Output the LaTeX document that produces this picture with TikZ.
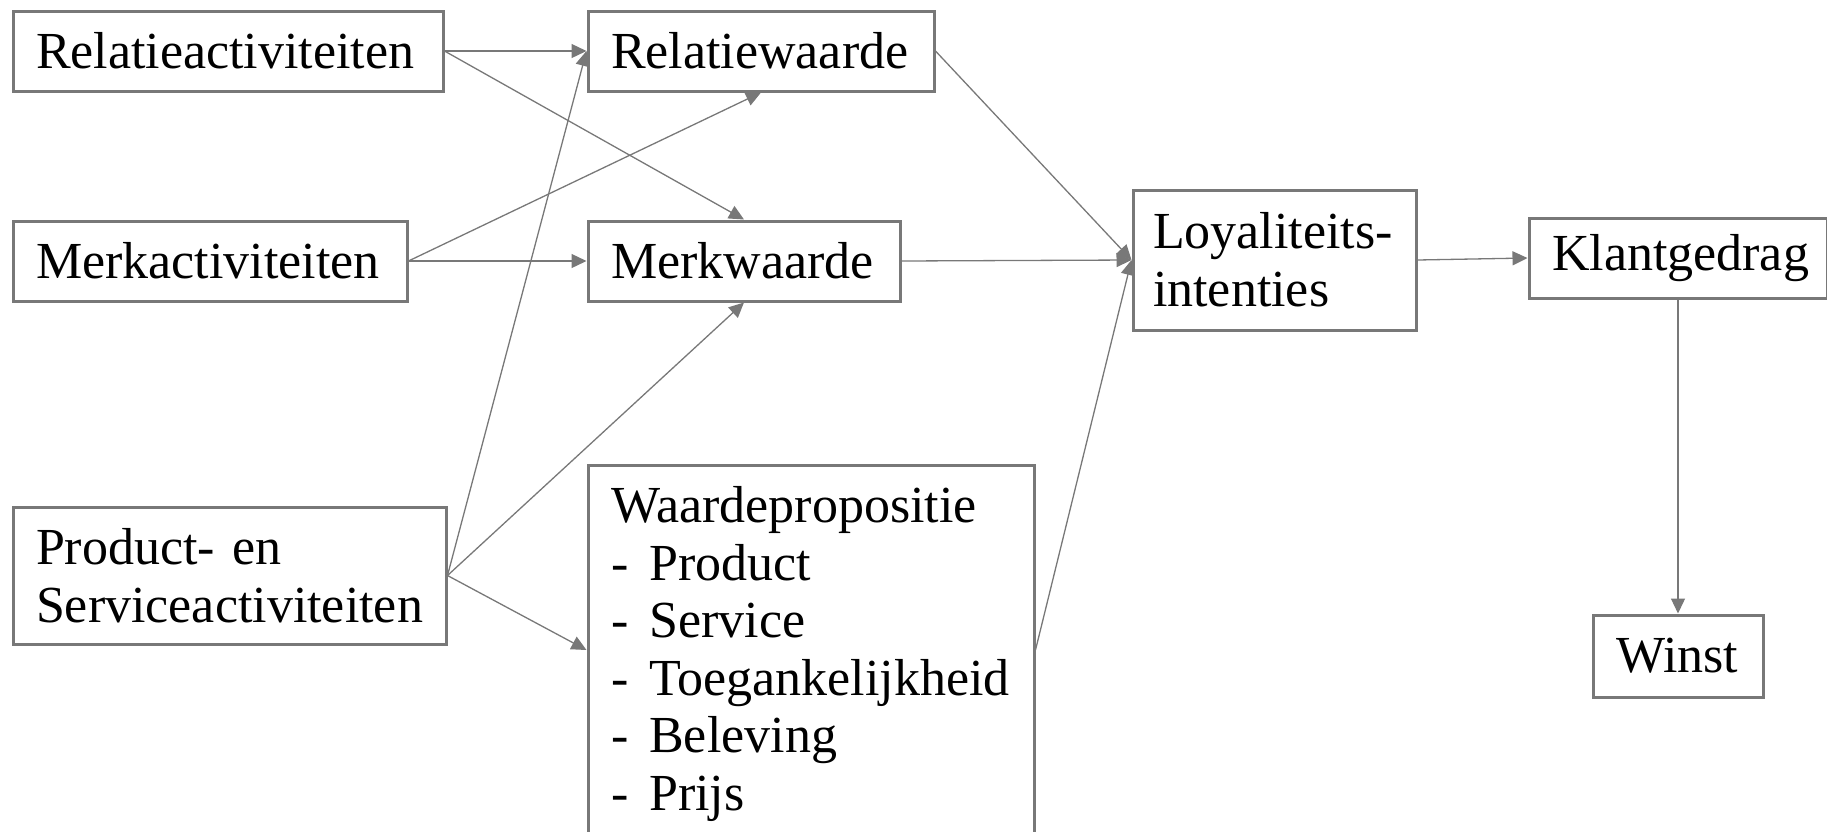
\documentclass[tikz,border=0pt]{standalone}
\usepackage{fontspec}
\setmainfont{Liberation Serif}
\usetikzlibrary{arrows.meta}
\definecolor{bordergray}{HTML}{787878}
\begin{document}
\begin{tikzpicture}[x=0.5pt,y=-0.5pt,
  box/.style={draw=bordergray, line width=1.5pt, inner xsep=11.5pt, inner ysep=0pt,
    align=left, font=\fontsize{26}{28.8}\selectfont, anchor=center},
  conn/.style={draw=bordergray, line width=0.65pt, -{Triangle[length=7.5pt,width=7pt]}}]
\useasboundingbox (0,0) rectangle (1827,831);
\node[box, text width=192pt, minimum height=40pt] (ra) at (228,51) {Relatieactiviteiten};
\node[box, text width=150pt, minimum height=40pt] (rw) at (761,51) {Relatiewaarde};
\node[box, text width=174pt, minimum height=40pt] (ma) at (210,261) {Merkactiviteiten};
\node[box, text width=133pt, minimum height=40pt] (mw) at (744,261) {Merkwaarde};
\node[box, text width=193.5pt, minimum height=68.5pt] (ps) at (229.5,575.5) {Product- en\\Serviceactiviteiten};
\node[box, inner sep=0pt, minimum width=223pt, minimum height=185pt] (wp) at (811,650) {};
\node[anchor=north west, align=left, inner sep=0pt, font=\fontsize{26}{28.8}\selectfont] (wptext) at (611,486)
  {Waardepropositie\\
   \makebox[0.73em][l]{-}Product\\
   \makebox[0.73em][l]{-}Service\\
   \makebox[0.73em][l]{-}Toegankelijkheid\\
   \makebox[0.73em][l]{-}Beleving\\
   \makebox[0.73em][l]{-}Prijs};
\node[box, inner xsep=10pt, text width=121.5pt, minimum height=70pt] (li) at (1274.5,260) {Loyaliteits-\\intenties};
\node[box, text width=126pt, minimum height=40pt] (kg) at (1678,258) {Klantgedrag};
\node[box, text width=62pt, minimum height=41pt] (wi) at (1678,656) {Winst};
\draw[conn] (ra.east) -- (rw.west);
\draw[conn] (ra.east) -- (mw.north);
\draw[conn] (ma.east) -- (rw.south);
\draw[conn] (ma.east) -- (mw.west);
\draw[conn] (ps.east) -- (rw.west);
\draw[conn] (ps.east) -- (mw.south);
\draw[conn] (ps.east) -- (wp.west);
\draw[conn] (rw.east) -- (li.west);
\draw[conn] (mw.east) -- (li.west);
\draw[conn] (wp.east) -- (li.west);
\draw[conn] (li.east) -- (kg.west);
\draw[conn] (kg.south) -- (wi.north);
\end{tikzpicture}
\end{document}
